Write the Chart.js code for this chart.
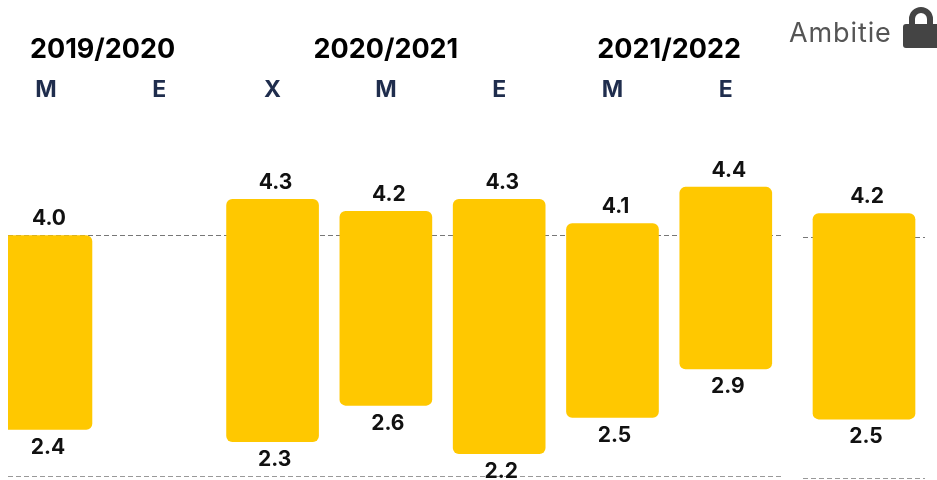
<!DOCTYPE html>
<html>
<head>
<meta charset="utf-8">
<script src="https://cdn.jsdelivr.net/npm/chart.js@4"></script>
<style>
  html, body { margin: 0; padding: 0; background: #fff; overflow: hidden; }
  #page { position: relative; width: 937px; height: 480px; overflow: hidden; }
  canvas { position: absolute; top: 0; }
  #ambitie { position: absolute; left: 789px; top: 16px; font: 400 27px Inter, sans-serif; letter-spacing: 0.9px; color: #555; }
  #lock { position: absolute; left: 903px; top: 7px; }
</style>
</head>
<body>
<div id="page">
  <canvas id="mainChart" style="left:0;width:790px;height:480px"></canvas>
  <canvas id="ambitionChart" style="left:803px;width:122px;height:480px"></canvas>
  <div id="ambitie">Ambitie</div>
  <svg id="lock" width="34" height="41" viewBox="0 0 34 41">
    <path d="M9 20V12a9 9 0 0 1 18 0v8" fill="none" stroke="#444" stroke-width="6"/>
    <rect x="0" y="17" width="38" height="24" rx="3" fill="#444"/>
  </svg>
</div>
<script>
// Data
const periods = ['M', 'E', 'X', 'M', 'E', 'M', 'E'];
const highValues = [4.0, null, 4.3, 4.2, 4.3, 4.1, 4.4];
const lowValues = [2.4, null, 2.3, 2.6, 2.2, 2.5, 2.9];
const years = ['2019/2020', '2020/2021', '2021/2022'];
const yearCenters = [0.5, 3, 5.5];
const ambitionHigh = [4.2];
const ambitionLow = [2.5];
const gridValues = [2.01, 4];

const FONT = 'Inter, sans-serif';
const BAR_COLOR = '#FFC800';

// Value labels above and below each floating bar
const valueLabels = {
    id: 'valueLabels',
    afterDatasetsDraw(chart) {
        const ctx = chart.ctx;
        const raw = chart.data.datasets[0].data;
        ctx.save();
        ctx.font = '700 21px ' + FONT;
        ctx.fillStyle = '#111';
        ctx.textAlign = 'center';
        ctx.textBaseline = 'middle';
        chart.getDatasetMeta(0).data.forEach((bar, i) => {
            const range = raw[i].y;
            if (!range) return;
            ctx.fillText(range[1].toFixed(1), bar.x + 3, bar.y - 17);
            ctx.fillText(range[0].toFixed(1), bar.x + 2, bar.base + 18);
        });
        ctx.restore();
    }
};

// School year headings over the M/E/X axis
const yearTitles = {
    id: 'yearTitles',
    afterDraw(chart) {
        const ctx = chart.ctx;
        ctx.save();
        ctx.font = '700 27px ' + FONT;
        ctx.fillStyle = '#000';
        ctx.textAlign = 'center';
        ctx.textBaseline = 'middle';
        years.forEach((year, i) => {
            ctx.fillText(year, chart.scales.x.getPixelForValue(yearCenters[i]), 50);
        });
        ctx.restore();
    }
};

const yScale = {
    min: 2,
    max: 5,
    afterFit: (s) => { s.width = 0; },
    afterBuildTicks: (s) => { s.ticks = gridValues.map((value) => ({ value })); },
    ticks: { display: false },
    border: { display: false, dash: [5, 3] },
    grid: {
        color: (c) => (c.tick && c.tick.value === 4 ? '#777' : '#999'),
        lineWidth: 1,
        drawTicks: false
    }
};

new Chart(document.getElementById('mainChart'), {
    type: 'bar',
    data: {
        datasets: [{
            data: periods.map((_, i) => ({
                x: i,
                y: highValues[i] === null ? null : [lowValues[i], highValues[i]]
            })),
            backgroundColor: BAR_COLOR,
            borderRadius: 6,
            borderSkipped: false,
            barThickness: 92
        }]
    },
    options: {
        responsive: false,
        animation: false,
        layout: { padding: { left: 8, right: 7, top: 0, bottom: 2 } },
        plugins: { legend: { display: false }, tooltip: { enabled: false } },
        scales: {
            x: {
                type: 'linear',
                position: 'top',
                offset: false,
                min: -0.335,
                max: 6.505,
                afterFit: (s) => { s.height = 114.5; },
                afterBuildTicks: (s) => { s.ticks = periods.map((_, i) => ({ value: i })); },
                ticks: {
                    callback: (v) => periods[v],
                    font: { family: FONT, size: 23, weight: '700' },
                    color: '#1f2d4d',
                    padding: 11,
                    maxRotation: 0,
                    autoSkip: false
                },
                border: { display: false },
                grid: { display: false, drawTicks: false }
            },
            y: yScale
        }
    },
    plugins: [valueLabels, yearTitles]
});

new Chart(document.getElementById('ambitionChart'), {
    type: 'bar',
    data: {
        labels: [''],
        datasets: [{
            data: [{ x: '', y: [ambitionLow[0], ambitionHigh[0]] }],
            backgroundColor: BAR_COLOR,
            borderRadius: 6,
            borderSkipped: false,
            barThickness: 102
        }]
    },
    options: {
        responsive: false,
        animation: false,
        layout: { padding: { top: 116.8, bottom: 0.5 } },
        plugins: { legend: { display: false }, tooltip: { enabled: false } },
        scales: {
            x: { display: false },
            y: yScale
        }
    },
    plugins: [valueLabels]
});
</script>
</body>
</html>
